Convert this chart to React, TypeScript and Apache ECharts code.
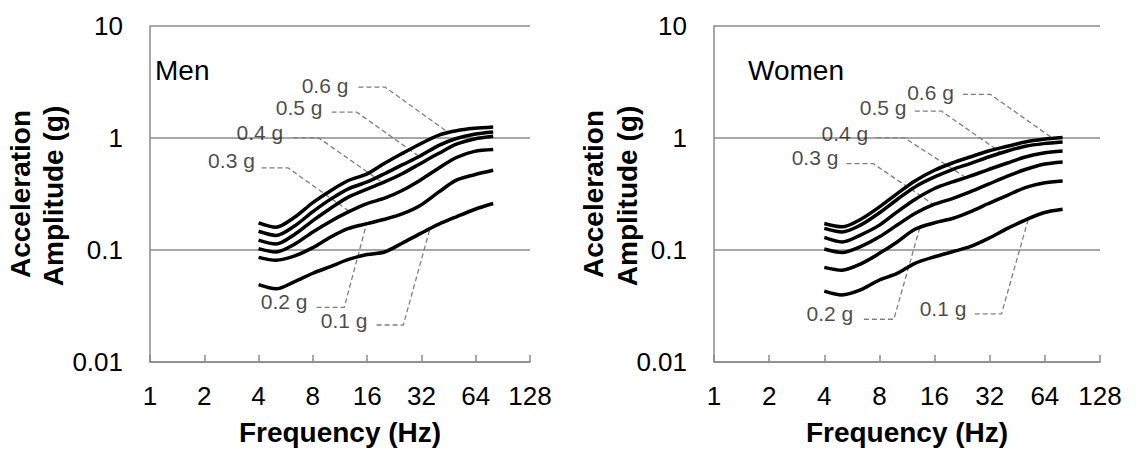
import React, { useEffect, useRef } from "react";
import * as echarts from "echarts";

const FREQS = [4, 5, 6.3, 8, 10, 12.5, 16, 20, 25, 31.5, 40, 50, 63, 80];
const LEVELS = ["0.6 g", "0.5 g", "0.4 g", "0.3 g", "0.2 g", "0.1 g"];
const X_TICKS = [1, 2, 4, 8, 16, 32, 64, 128];
const Y_TICKS = [0.01, 0.1, 1, 10];

// Men
const MEN_06 = [0.175, 0.16, 0.195, 0.265, 0.337, 0.415, 0.478, 0.594, 0.726, 0.885, 1.06, 1.16, 1.22, 1.255];
const MEN_05 = [0.147, 0.135, 0.163, 0.22, 0.283, 0.35, 0.405, 0.48, 0.575, 0.69, 0.86, 0.99, 1.08, 1.13];
const MEN_04 = [0.1225, 0.113, 0.137, 0.183, 0.235, 0.295, 0.35, 0.405, 0.48, 0.59, 0.73, 0.88, 0.98, 1.035];
const MEN_03 = [0.103, 0.096, 0.112, 0.145, 0.18, 0.218, 0.26, 0.29, 0.34, 0.42, 0.54, 0.67, 0.76, 0.79];
const MEN_02 = [0.086, 0.081, 0.088, 0.105, 0.13, 0.155, 0.172, 0.188, 0.21, 0.25, 0.33, 0.42, 0.47, 0.515];
const MEN_01 = [0.049, 0.045, 0.052, 0.062, 0.071, 0.082, 0.091, 0.096, 0.115, 0.14, 0.17, 0.198, 0.23, 0.26];

// Women
const WOMEN_06 = [0.1726, 0.161, 0.1875, 0.2427, 0.319, 0.414, 0.515, 0.598, 0.677, 0.766, 0.843, 0.921, 0.973, 1.008];
const WOMEN_05 = [0.156, 0.145, 0.1667, 0.215, 0.2825, 0.366, 0.449, 0.523, 0.591, 0.677, 0.766, 0.843, 0.891, 0.921];
const WOMEN_04 = [0.1295, 0.118, 0.136, 0.1667, 0.219, 0.2825, 0.354, 0.405, 0.456, 0.523, 0.598, 0.677, 0.735, 0.766];
const WOMEN_03 = [0.102, 0.095, 0.107, 0.131, 0.167, 0.212, 0.2565, 0.288, 0.33, 0.387, 0.456, 0.523, 0.583, 0.611];
const WOMEN_02 = [0.07, 0.066, 0.0749, 0.0933, 0.118, 0.153, 0.175, 0.191, 0.219, 0.26, 0.308, 0.361, 0.397, 0.414];
const WOMEN_01 = [0.043, 0.0397, 0.044, 0.054, 0.0618, 0.076, 0.087, 0.0964, 0.107, 0.127, 0.156, 0.185, 0.215, 0.231];

// Leader annotations in data coordinates [freq, amplitude], ordered 0.6 g .. 0.1 g
const MEN_LABEL_AT = [[9.34, 2.95], [6.72, 1.889], [4.07, 1.131], [2.83, 0.633], [5.54, 0.0345], [11.93, 0.0237]];
const MEN_LEADER_START = [[14.3, 2.85], [10.17, 1.705], [6.23, 1.008], [4.16, 0.54], [8.39, 0.0308], [18.06, 0.0214]];
const MEN_LEADER_ELBOW = [[20.1, 2.85], [13.99, 1.705], [8.57, 1.008], [5.84, 0.54], [11.94, 0.0308], [25.4, 0.0214]];
const MEN_LEADER_END = [[45.1, 1.12], [31.4, 0.677], [19.25, 0.405], [12.84, 0.219], [15.9, 0.1726], [35.7, 0.1558]];

const WOMEN_LABEL_AT = [[15.2, 2.57], [8.38, 1.889], [5.18, 1.094], [3.56, 0.663], [4.29, 0.0272], [17.8, 0.0302]];
const WOMEN_LEADER_START = [[22.9, 2.452], [12.48, 1.74], [7.71, 1.008], [5.29, 0.591], [6.58, 0.02407], [26.5, 0.02685]];
const WOMEN_LEADER_ELBOW = [[32.3, 2.452], [17.44, 1.74], [10.9, 1.008], [7.39, 0.591], [9.59, 0.02407], [37.1, 0.02685]];
const WOMEN_LEADER_END = [[70.8, 0.99], [37.8, 0.72], [23.9, 0.44], [16.05, 0.25], [13.29, 0.158], [51.8, 0.185]];

const PANELS = [
  {
    title: "Men",
    curves: [MEN_06, MEN_05, MEN_04, MEN_03, MEN_02, MEN_01],
    labelAt: MEN_LABEL_AT,
    start: MEN_LEADER_START,
    elbow: MEN_LEADER_ELBOW,
    end: MEN_LEADER_END,
  },
  {
    title: "Women",
    curves: [WOMEN_06, WOMEN_05, WOMEN_04, WOMEN_03, WOMEN_02, WOMEN_01],
    labelAt: WOMEN_LABEL_AT,
    start: WOMEN_LEADER_START,
    elbow: WOMEN_LEADER_ELBOW,
    end: WOMEN_LEADER_END,
  },
];

const FONT = "'Liberation Sans', Arial, sans-serif";
const GRAY = "#8a8a8a";

export default function App() {
  const ref = useRef<HTMLDivElement>(null);

  useEffect(() => {
    if (!ref.current) return;
    const chart = echarts.init(ref.current, undefined, { renderer: "svg" });

    const grids = [
      { left: 150, top: 26, width: 380, height: 336 },
      { left: 714, top: 26, width: 386, height: 336 },
    ];

    const xAxes = grids.map((_, i) => ({
      type: "log",
      logBase: 2,
      gridIndex: i,
      min: X_TICKS[0],
      max: X_TICKS[X_TICKS.length - 1],
      axisLine: { show: true, lineStyle: { color: GRAY, width: 1.5 } },
      axisTick: { show: true, inside: true, length: 7, lineStyle: { color: GRAY, width: 1.5 } },
      splitLine: { show: false },
      axisLabel: {
        fontSize: 26,
        color: "#000",
        fontFamily: FONT,
        margin: 21,
        formatter: (v: number) => String(Math.round(v)),
      },
    }));

    const yAxes = grids.map((_, i) => ({
      type: "log",
      logBase: 10,
      gridIndex: i,
      min: Y_TICKS[0],
      max: Y_TICKS[Y_TICKS.length - 1],
      axisLine: { show: true, lineStyle: { color: GRAY, width: 1.5 } },
      axisTick: { show: false },
      splitLine: { show: true, lineStyle: { color: GRAY, width: 1.5 } },
      axisLabel: {
        fontSize: 26,
        color: "#000",
        fontFamily: FONT,
        margin: 27,
        formatter: (v: number) => {
          const e = Math.round(Math.log10(v));
          return e >= 0 ? String(Math.pow(10, e)) : Math.pow(10, e).toFixed(-e);
        },
      },
    }));

    const series: any[] = [];
    PANELS.forEach((p, pi) => {
      p.curves.forEach((vals, ci) => {
        series.push({
          type: "line",
          name: `${p.title} ${LEVELS[ci]}`,
          xAxisIndex: pi,
          yAxisIndex: pi,
          data: FREQS.map((f, k) => [f, vals[k]]),
          showSymbol: false,
          symbol: "none",
          smooth: 0.3,
          lineStyle: { color: "#000", width: 3.5 },
          z: 3,
        });
      });
      LEVELS.forEach((lv, li) => {
        series.push({
          type: "line",
          name: `${p.title} leader ${lv}`,
          xAxisIndex: pi,
          yAxisIndex: pi,
          data: [p.start[li], p.elbow[li], p.end[li]],
          showSymbol: false,
          symbol: "none",
          lineStyle: { color: "#7f7f7f", width: 1.3, type: [5, 3] },
          z: 2,
        });
      });
      series.push({
        type: "scatter",
        name: `${p.title} labels`,
        xAxisIndex: pi,
        yAxisIndex: pi,
        symbolSize: 1,
        itemStyle: { color: "rgba(0,0,0,0)" },
        data: LEVELS.map((lv, li) => ({ name: lv, value: p.labelAt[li] })),
        label: {
          show: true,
          position: "inside",
          formatter: "{b}",
          fontSize: 21,
          color: "#1a1a1a",
          fontFamily: FONT,
        },
        z: 4,
      });
    });

    const titleText = (text: string, x: number, y: number) => ({
      type: "text",
      x,
      y,
      rotation: Math.PI / 2,
      style: {
        text,
        fontSize: 28,
        fontWeight: "bold",
        fontFamily: FONT,
        fill: "#000",
        textAlign: "center",
        textVerticalAlign: "middle",
      },
    });
    const plainText = (text: string, x: number, y: number, size: number, bold: boolean) => ({
      type: "text",
      x,
      y,
      style: {
        text,
        fontSize: size,
        fontWeight: bold ? "bold" : "normal",
        fontFamily: FONT,
        fill: "#000",
        textAlign: bold ? "center" : "left",
        textVerticalAlign: "middle",
      },
    });

    chart.setOption({
      animation: false,
      backgroundColor: "#fff",
      textStyle: { fontFamily: FONT },
      grid: grids,
      xAxis: xAxes,
      yAxis: yAxes,
      series,
      graphic: [
        titleText("Acceleration", 20, 194),
        titleText("Amplitude (g)", 53, 196),
        titleText("Acceleration", 593, 194),
        titleText("Amplitude (g)", 627, 196),
        plainText("Frequency (Hz)", 340, 432, 28, true),
        plainText("Frequency (Hz)", 907, 432, 28, true),
        plainText(PANELS[0].title, 155, 70, 28, false),
        plainText(PANELS[1].title, 748, 70, 28, false),
      ],
    });

    return () => chart.dispose();
  }, []);

  return (
    <div
      ref={ref}
      style={{ position: "fixed", left: 0, top: 0, width: 1136, height: 451, background: "#fff" }}
    />
  );
}
